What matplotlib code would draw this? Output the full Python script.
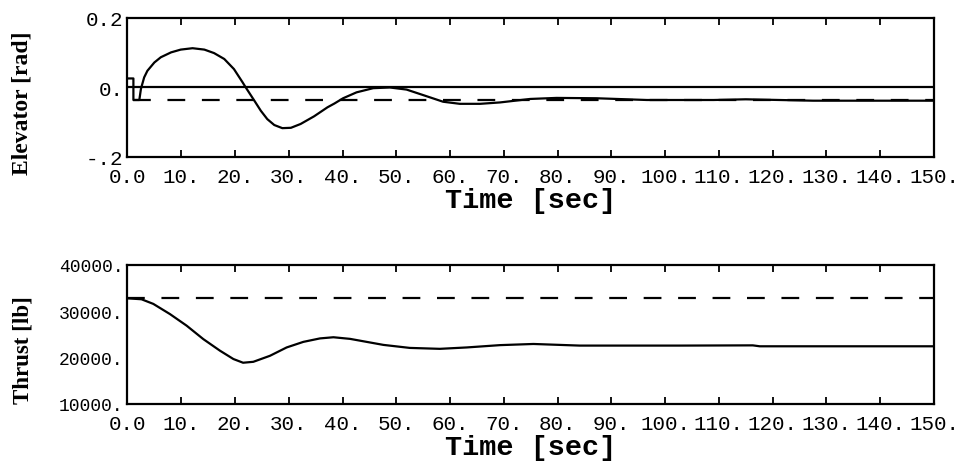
import matplotlib
matplotlib.use('Agg')
import matplotlib.pyplot as plt

# time axis ticks
x_ticks = [0, 10, 20, 30, 40, 50, 60, 70, 80, 90, 100, 110, 120, 130, 140, 150]
x_tick_labels = ['0.0', '10.', '20.', '30.', '40.', '50.', '60.', '70.', '80.',
                 '90.', '100.', '110.', '120.', '130.', '140.', '150.']

# elevator response (rad)
elev_t = [0, 1.1, 1.1, 2.2, 2.5, 3.1, 3.7, 5.0, 6.2, 8.1, 9.9, 12.1, 14.3, 16.1,
          18.0, 19.8, 21.4, 22.0, 23.6, 24.8, 26.0, 27.3, 28.8, 30.4, 32.2, 34.7,
          37.2, 38.5, 40.1, 42.6, 45.7, 48.8, 51.9, 55.6, 58.7, 61.8, 65.6,
          69.3, 74.9, 79.8, 87.2, 96.6, 109.0, 115.0, 127.5, 150.0]
elev = [0.026, 0.026, -0.036, -0.036, -0.004, 0.029, 0.048, 0.072, 0.087, 0.101,
        0.109, 0.113, 0.109, 0.099, 0.082, 0.053, 0.015, 0.0, -0.038, -0.067,
        -0.091, -0.108, -0.117, -0.116, -0.105, -0.083, -0.057, -0.046, -0.031,
        -0.014, -0.002, 0.0, -0.006, -0.025, -0.041, -0.047, -0.047, -0.043,
        -0.033, -0.030, -0.031, -0.036, -0.036, -0.034, -0.038, -0.038]
elev_zero_t = [0, 150]
elev_zero = [0.0, 0.0]
elev_trim_t = [1.1, 150]
elev_trim = [-0.035, -0.035]
elev_yticks = [-0.2, 0.0, 0.2]
elev_ytick_labels = ['-.2', '0.', '0.2']

# thrust response (lb)
thr_t = [0, 2.6, 4.8, 7.9, 11.0, 14.1, 17.2, 19.7, 21.5, 23.4, 26.5, 29.6, 32.7,
         35.8, 38.3, 41.4, 44.5, 47.6, 52.5, 58.1, 63.1, 69.3, 75.5, 84.1, 102.7,
         116.3, 117.6, 150.0]
thr = [32800, 32600, 31600, 29400, 26900, 24000, 21500, 19700, 18900, 19100,
       20400, 22200, 23400, 24150, 24400, 24050, 23400, 22750, 22100, 21900,
       22200, 22700, 22950, 22600, 22600, 22650, 22450, 22450]
thr_trim_t = [0, 150]
thr_trim = [32800, 32800]
thr_yticks = [10000, 20000, 30000, 40000]
thr_ytick_labels = ['10000.', '20000.', '30000.', '40000.']

mono = 'Liberation Mono'
serif = 'Liberation Serif'


def style_axes(ax, yticks, ylabels, ysize):
    ax.set_xlim(0, 150)
    ax.set_xticks(x_ticks)
    ax.set_xticklabels(x_tick_labels, fontfamily=mono, fontsize=15)
    ax.set_yticks(yticks)
    ax.set_yticklabels(ylabels, fontfamily=mono, fontsize=ysize)
    ax.tick_params(axis='x', direction='in', length=5, width=1.3, top=True,
                   bottom=True, pad=7)
    ax.tick_params(axis='y', length=0, pad=3)
    for s in ax.spines.values():
        s.set_linewidth(1.6)
    ax.set_xlabel('Time [sec]', fontfamily=mono, fontweight='bold', fontsize=20.5,
                  labelpad=1)


fig = plt.figure(figsize=(9.6, 4.64), dpi=100)

ax1 = fig.add_axes([0.1328, 0.6595, 0.8401, 0.2996])
ax1.plot(elev_zero_t, elev_zero, color='k', lw=1.6)
ax1.plot(elev_trim_t, elev_trim, color='k', lw=1.6, dashes=(8, 7.5))
ax1.plot(elev_t, elev, color='k', lw=1.6)
ax1.set_ylim(-0.2, 0.2)
style_axes(ax1, elev_yticks, elev_ytick_labels, 15)

ax2 = fig.add_axes([0.1328, 0.1272, 0.8401, 0.2996])
ax2.plot(thr_trim_t, thr_trim, color='k', lw=1.6, dashes=(8, 7.5))
ax2.plot(thr_t, thr, color='k', lw=1.6)
ax2.set_ylim(10000, 40000)
style_axes(ax2, thr_yticks, thr_ytick_labels, 13)

fig.text(0.023, 1 - 103 / 464, 'Elevator [rad]', rotation=90, ha='center',
         va='center', fontfamily=serif, fontweight='bold', fontsize=17)
fig.text(0.024, 1 - 350 / 464, 'Thrust [lb]', rotation=90, ha='center',
         va='center', fontfamily=serif, fontweight='bold', fontsize=16.5)

fig.savefig('out.png', dpi=100)
